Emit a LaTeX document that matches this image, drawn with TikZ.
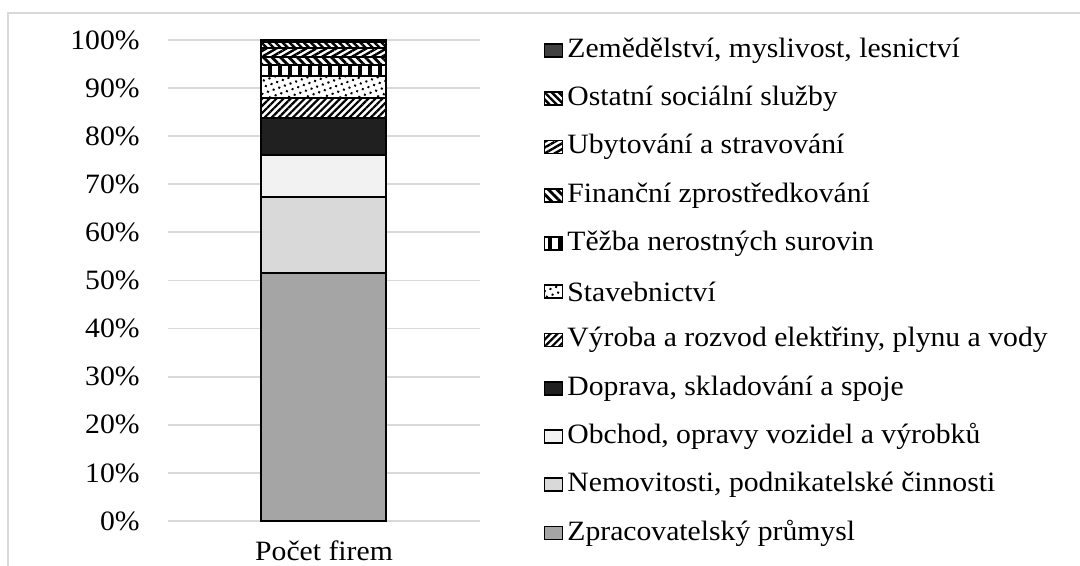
\documentclass[tikz,border=0pt]{standalone}
\usepackage{fontspec}
\setmainfont[FakeStretch=1.06]{Liberation Serif}
\usepackage{tikz}
\usepackage{xcolor}
\usetikzlibrary{patterns,patterns.meta}
\definecolor{gridgray}{HTML}{D9D9D9}
\definecolor{zpracgray}{HTML}{A5A5A5}
\definecolor{nemogray}{HTML}{D9D9D9}
\definecolor{obchgray}{HTML}{F2F2F2}
\definecolor{doprgray}{HTML}{202020}
\definecolor{zemegray}{HTML}{404040}
\tikzset{every node/.style={font=\fontsize{14}{16}\selectfont},
 frame/.style={draw=gridgray,line width=1pt},
 grid/.style={draw=gridgray,line width=0.9pt},
 seg/.style={draw=black,line width=1pt},
 ticklabel/.style={anchor=east,inner sep=0pt},
 legtext/.style={anchor=west,inner sep=0pt},
 legbox/.style={draw=black,line width=0.8pt,minimum width=9pt,minimum height=6.5pt,inner sep=0pt},
 zprac/.style={fill=zpracgray},
 nemo/.style={fill=nemogray},
 obch/.style={fill=obchgray},
 dopr/.style={fill=doprgray},
 vyroba/.style={fill=white,postaction={pattern={Lines[angle=45,distance=2.5pt,line width=1.1pt]}}},
 stav/.style={fill=white,postaction={pattern={Dots[distance=3pt,radius=0.7pt,angle=20]}}},
 tezba/.style={fill=white,postaction={pattern={Lines[angle=90,distance=5pt,line width=2.4pt]}}},
 financ/.style={fill=white,postaction={pattern={Lines[angle=-45,distance=3pt,line width=1.4pt]}}},
 ubyt/.style={fill=white,postaction={pattern={Lines[angle=30,distance=2.5pt,line width=1.2pt]}}},
 ostat/.style={fill=white,postaction={pattern={Lines[angle=-45,distance=2.5pt,line width=1.2pt]}}},
 zeme/.style={fill=zemegray},
 }

\begin{document}
\begin{tikzpicture}[x=0.5pt,y=-0.5pt]
    \fill[white] (0,0) rectangle (1080,566);
    \useasboundingbox (0,0) rectangle (1080,566);
    \draw[frame] (1080,13) -- (8,13) -- (8,566);
    % gridlines and axis labels
    \foreach \p in {0,10,...,100}{
        \draw[grid] (168,{521-4.81*\p}) -- (480,{521-4.81*\p});
        \node[ticklabel] (t\p) at (140,{521-4.81*\p}) {\p\%};
    }
    % stacked bar
    \draw[seg,zprac] (261,521) rectangle (386,272.7);
    \draw[seg,nemo] (261,272.7) rectangle (386,197.3);
    \draw[seg,obch] (261,197.3) rectangle (386,155);
    \draw[seg,dopr] (261,155) rectangle (386,118.3);
    \draw[seg,vyroba] (261,118.3) rectangle (386,98.3);
    \draw[seg,stav] (261,98.3) rectangle (386,75.7);
    \draw[seg,tezba] (261,75.7) rectangle (386,65);
    \draw[seg,financ] (261,65) rectangle (386,56.7);
    \draw[seg,ubyt] (261,56.7) rectangle (386,48.3);
    \draw[seg,ostat] (261,48.3) rectangle (386,42.5);
    \draw[seg,zeme] (261,42.5) rectangle (386,40);
    \node (xlab) at (324,551) {Počet firem};
    % legend
    \foreach \s/\t [count=\i from 0] in {zeme/{Zemědělství, myslivost, lesnictví},
        ostat/{Ostatní sociální služby},
        ubyt/{Ubytování a stravování},
        financ/{Finanční zprostředkování},
        tezba/{Těžba nerostných surovin},
        stav/{Stavebnictví},
        vyroba/{Výroba a rozvod elektřiny, plynu a vody},
        dopr/{Doprava, skladování a spoje},
        obch/{Obchod, opravy vozidel a výrobků},
        nemo/{Nemovitosti, podnikatelské činnosti},
        zprac/{Zpracovatelský průmysl}}{
        \node[legbox,\s] (m\i) at (553.5,{50.5+48.25*\i}) {};
        \node[legtext] (l\i) at (567,{50.5+48.25*\i}) {\t};
    }
\end{tikzpicture}
\end{document}
